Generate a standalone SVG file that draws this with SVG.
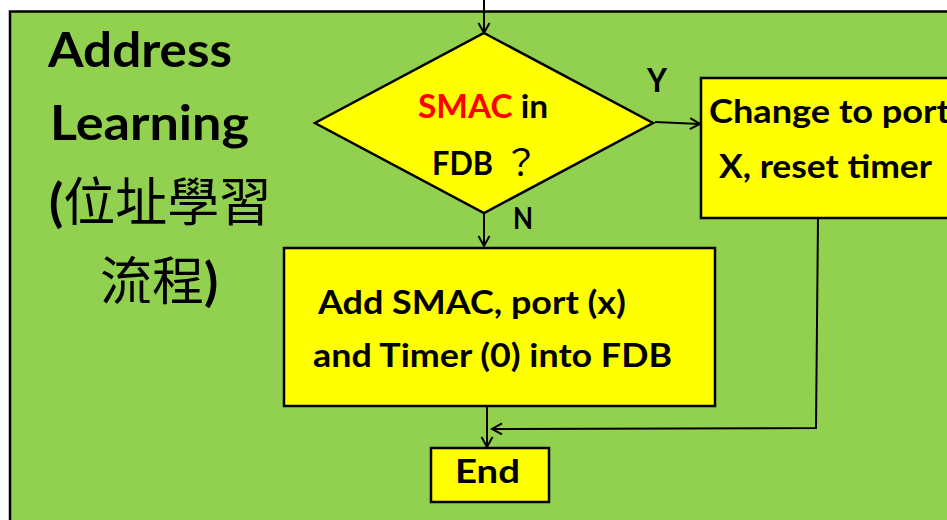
<svg xmlns="http://www.w3.org/2000/svg" width="947" height="520" viewBox="0 0 947 520">
<style>
.box{fill:#FFFF00;stroke:#000;stroke-width:2.5}
.t{font-family:Lato,"Open Sans","Noto Sans CJK TC",sans-serif;font-weight:bold;fill:#000}
.cj{font-family:"Noto Sans CJK TC",sans-serif;font-weight:normal;fill:#000}
.q{font-family:"Noto Sans CJK TC",sans-serif;font-weight:normal;fill:#000}
.c{fill:none;stroke:#000;stroke-width:2}
</style>
<defs>
<marker id="ah" markerUnits="userSpaceOnUse" markerWidth="14" markerHeight="14" refX="11" refY="7" orient="auto">
<path d="M1,1.5 L11,7 L1,12.5" fill="none" stroke="#000" stroke-width="2"/>
</marker>
</defs>
<rect x="0" y="0" width="947" height="520" fill="#fff"/>
<rect x="10" y="11.5" width="960" height="530" fill="#92D050" stroke="#000" stroke-width="2.5"/>
<g id="title">
<text class="t" x="48" y="67" font-size="48" textLength="184" lengthAdjust="spacingAndGlyphs">Address</text>
<text class="t" x="50" y="140" font-size="48" textLength="199" lengthAdjust="spacingAndGlyphs">Learning</text>
<text class="t" x="49" y="221" font-size="52">(<tspan class="cj">位址學習</tspan></text>
<text x="100" y="300" font-size="52"><tspan class="cj">流程</tspan><tspan class="t">)</tspan></text>
</g>
<g id="decision">
<polygon class="box" points="484,33 653,123 484,213 315,123"/>
<text class="t" x="418" y="118" font-size="32" textLength="130" lengthAdjust="spacingAndGlyphs"><tspan fill="#FF0000">SMAC</tspan> in</text>
<text class="t" x="432" y="175" font-size="32" textLength="61" lengthAdjust="spacingAndGlyphs">FDB</text>
<text class="q" x="503" y="176" font-size="36">？</text>
</g>
<g id="change">
<rect class="box" x="701" y="78" width="260" height="140"/>
<text class="t" x="709" y="123" font-size="32" textLength="241" lengthAdjust="spacingAndGlyphs">Change to port</text>
<text class="t" x="719" y="178" font-size="32" textLength="213" lengthAdjust="spacingAndGlyphs">X, reset timer</text>
</g>
<g id="add">
<rect class="box" x="284" y="248" width="431" height="158"/>
<text class="t" x="318" y="314" font-size="32" textLength="308" lengthAdjust="spacingAndGlyphs">Add SMAC, port (x)</text>
<text class="t" x="313" y="367" font-size="32" textLength="359" lengthAdjust="spacingAndGlyphs">and Timer (0) into FDB</text>
</g>
<g id="end">
<rect class="box" x="431" y="448" width="118" height="54"/>
<text class="t" x="455" y="483" font-size="32" textLength="65" lengthAdjust="spacingAndGlyphs">End</text>
</g>
<g id="connectors">
<line class="c" x1="484" y1="0" x2="484" y2="33" marker-end="url(#ah)"/>
<line class="c" x1="655" y1="122" x2="700" y2="124" marker-end="url(#ah)"/>
<line class="c" x1="484" y1="213" x2="484" y2="246" marker-end="url(#ah)"/>
<line class="c" x1="487" y1="407" x2="487" y2="447" marker-end="url(#ah)"/>
<polyline class="c" points="818,218 816,428 492,429" marker-end="url(#ah)"/>
<text class="t" x="647" y="92" font-size="32" textLength="20" lengthAdjust="spacingAndGlyphs">Y</text>
<text class="t" x="513" y="229" font-size="30" textLength="20" lengthAdjust="spacingAndGlyphs">N</text>
</g>
</svg>
